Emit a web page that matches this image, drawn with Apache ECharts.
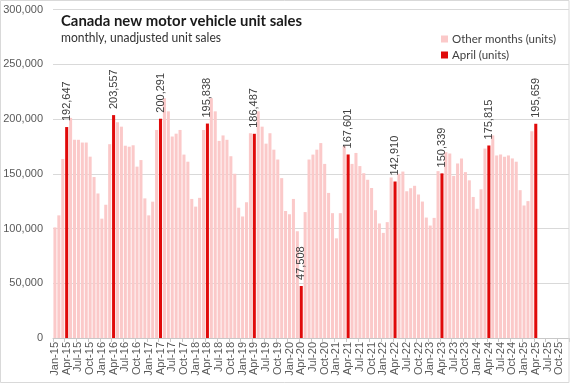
<!DOCTYPE html>
<html>
<head>
<meta charset="utf-8">
<script src="https://cdn.jsdelivr.net/npm/echarts@6/dist/echarts.min.js"></script>
<style>
  html, body { margin: 0; padding: 0; background: #ffffff; }
  #chart { width: 577px; height: 385px; }
</style>
</head>
<body>
<div id="chart"></div>
<script>
// ---- Data ----
const titleText = "Canada new motor vehicle unit sales";
const subtitleText = "monthly, unadjusted unit sales";
const seriesOtherName = "Other months (units)";
const seriesAprilName = "April (units)";

const monthNames = ["Jan", "Feb", "Mar", "Apr", "May", "Jun", "Jul", "Aug", "Sep", "Oct", "Nov", "Dec"];
const yearLabels = ["15", "16", "17", "18", "19", "20", "21", "22", "23", "24", "25"];

const sales2015 = [101000, 112000, 163500, 192647, 201000, 181000, 181000, 178500, 178500, 165600, 147000, 132000];
const sales2016 = [109000, 121700, 177000, 203557, 197000, 193000, 175600, 174700, 176000, 156500, 162500, 127500];
const sales2017 = [112000, 124500, 190000, 200291, 219000, 207000, 184000, 186600, 190000, 167500, 161000, 127000];
const sales2018 = [120000, 128000, 190000, 195838, 219000, 207000, 180000, 185000, 181000, 166000, 150000, 119000];
const sales2019 = [111000, 124000, 187000, 186487, 207000, 193000, 177500, 187000, 172000, 163000, 146000, 116000];
const sales2020 = [113000, 127000, 97500, 47508, 115000, 163000, 167500, 172000, 178000, 159000, 132500, 114000];
const sales2021 = [91000, 114000, 175500, 167601, 159000, 169000, 157000, 150500, 144500, 137000, 116700, 104600];
const sales2022 = [96000, 105800, 146600, 142910, 150000, 152000, 134000, 136800, 139000, 131000, 124600, 110000];
const sales2023 = [102700, 109700, 152400, 150339, 169700, 168500, 148000, 159400, 164000, 151500, 144000, 128800];
const sales2024 = [118000, 135800, 173000, 175815, 185000, 166700, 167600, 165500, 166700, 164000, 161000, 135000];
const sales2025 = [121000, 125000, 188800, 195659];

const yTicks = [0, 50000, 100000, 150000, 200000, 250000, 300000];

// ---- Build category axis and series ----
const salesByYear = [sales2015, sales2016, sales2017, sales2018, sales2019, sales2020,
                     sales2021, sales2022, sales2023, sales2024, sales2025];
const categories = [];
const otherData = [];
const aprilData = [];
yearLabels.forEach(function (yy, yi) {
  monthNames.forEach(function (m, mi) {
    categories.push(m + "-" + yy);
    const v = salesByYear[yi][mi];
    const has = (v !== undefined);
    if (mi === 3) {
      aprilData.push(has ? v : null);
      otherData.push(null);
    } else {
      otherData.push(has ? v : null);
      aprilData.push(null);
    }
  });
});

function fmt(v) { return String(v).replace(/\B(?=(\d{3})+(?!\d))/g, ","); }

// measure text to fit title widths of the reference
function measure(font, text) {
  const c = document.createElement("canvas").getContext("2d");
  c.font = font;
  return c.measureText(text).width;
}
const titleFont = "bold 15px Lato";
const subFont = "12.5px Lato";
const titleScale = 241 / measure(titleFont, titleText);
const subScale = 160 / measure(subFont, subtitleText);

const chart = echarts.init(document.getElementById("chart"), null, { renderer: "canvas" });

const option = {
  animation: false,
  backgroundColor: "#ffffff",
  textStyle: { fontFamily: "Liberation Sans, Arial, sans-serif" },
  grid: { left: 53, right: 8, top: 9.5, bottom: 47, containLabel: false },
  legend: {
    orient: "vertical",
    left: 441,
    top: 33,
    padding: 0,
    itemWidth: 7,
    itemHeight: 7,
    itemGap: 4,
    icon: "rect",
    textStyle: { fontFamily: "Lato", fontSize: 11.5, color: "#404040", padding: [0, 0, 0, -1] },
    data: [seriesOtherName, seriesAprilName]
  },
  xAxis: {
    type: "category",
    data: categories,
    axisLine: { show: true, lineStyle: { color: "#c8c8c8", width: 1 } },
    axisTick: { show: true, interval: 2, length: 4, alignWithLabel: false, lineStyle: { color: "#c8c8c8" } },
    axisLabel: {
      interval: 2,
      rotate: 90,
      margin: 4,
      fontSize: 11,
      color: "#595959",
      fontFamily: "Liberation Sans"
    },
    splitLine: { show: false }
  },
  yAxis: {
    type: "value",
    min: yTicks[0],
    max: yTicks[yTicks.length - 1],
    interval: yTicks[1] - yTicks[0],
    axisLine: { show: false },
    axisTick: { show: false },
    axisLabel: {
      margin: 10,
      fontSize: 11,
      color: "#595959",
      fontFamily: "Liberation Sans",
      formatter: function (v) { return fmt(v); }
    },
    splitLine: { show: true, lineStyle: { color: "#d9d9d9", width: 1 } }
  },
  series: [
    {
      name: seriesOtherName,
      type: "bar",
      data: otherData,
      barCategoryGap: "22%",
      barGap: "-100%",
      itemStyle: { color: "#fbc9c9" }
    },
    {
      name: seriesAprilName,
      type: "bar",
      data: aprilData,
      barCategoryGap: "22%",
      barGap: "-100%",
      itemStyle: { color: "#e00a0a" },
      label: {
        show: true,
        position: "top",
        rotate: 90,
        align: "left",
        verticalAlign: "middle",
        distance: 6,
        fontSize: 11,
        color: "#404040",
        fontFamily: "Liberation Sans",
        formatter: function (p) { return p.value == null ? "" : fmt(p.value); }
      }
    }
  ],
  graphic: [
    {
      type: "rect",
      silent: true,
      shape: { x: 0.5, y: 0.5, width: 568.5, height: 382 },
      style: { fill: "none", stroke: "#d9d9d9", lineWidth: 1 },
      z: 100
    },
    {
      type: "text",
      x: 61,
      y: 14,
      scaleX: titleScale,
      style: { text: titleText, font: titleFont, fill: "#1a1a1a", verticalAlign: "top" },
      z: 100
    },
    {
      type: "text",
      x: 61,
      y: 31,
      scaleX: subScale,
      style: { text: subtitleText, font: subFont, fill: "#333333", verticalAlign: "top" },
      z: 100
    }
  ]
};
chart.setOption(option);
</script>
</body>
</html>
